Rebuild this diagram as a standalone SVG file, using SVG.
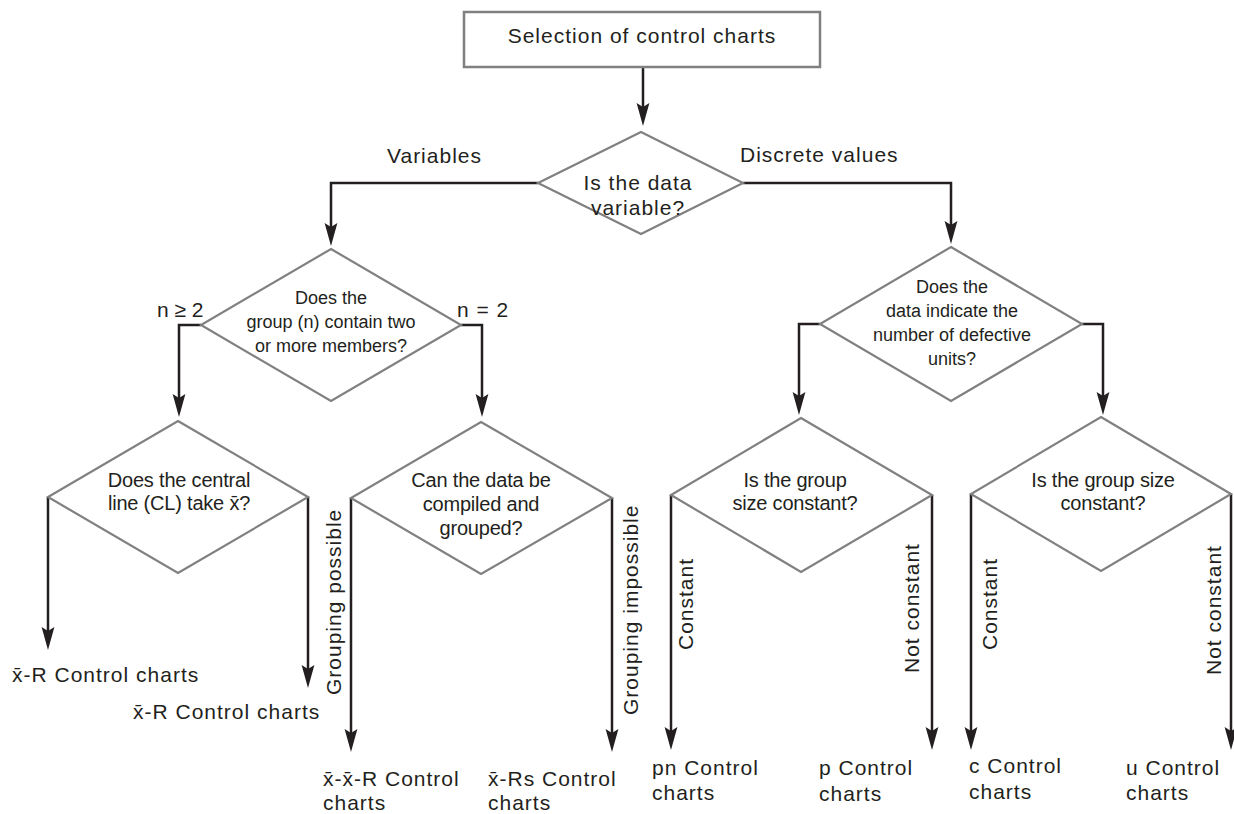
<svg xmlns="http://www.w3.org/2000/svg" width="1234" height="814" viewBox="0 0 1234 814">
<style>
.box{fill:#fff;stroke:#808080;stroke-width:2.5}
.dia{fill:#fff;stroke:#808080;stroke-width:2.2}
.con{fill:none;stroke:#231f20;stroke-width:2.5;marker-end:url(#ah)}
.lbl{font-family:"Liberation Sans",Arial,sans-serif;font-size:21px;letter-spacing:1px;fill:#231f20}
.dt{font-family:"Liberation Sans",Arial,sans-serif;font-size:18px;fill:#231f20;text-anchor:middle}
.dt2{font-family:"Liberation Sans",Arial,sans-serif;font-size:20px;letter-spacing:-0.2px;fill:#231f20;text-anchor:middle}
</style>
<defs>
<marker id="ah" markerUnits="userSpaceOnUse" markerWidth="24" markerHeight="14" viewBox="0 0 24 14" refX="15" refY="7" orient="auto">
<path d="M0,0.6 L23,7 L0,13.4 L4,7 Z" fill="#231f20"/>
</marker>
</defs>
<rect width="1234" height="814" fill="#fff"/>
<g id="connectors">
<path class="con" d="M643,68 V118"/>
<path class="con" d="M538,183 H331 V238"/>
<path class="con" d="M743,183 H951 V236"/>
<path class="con" d="M201,325 H179 V409"/>
<path class="con" d="M461,325 H482 V409"/>
<path class="con" d="M48,497 V642"/>
<path class="con" d="M308,497 V680"/>
<path class="con" d="M351,498 V744"/>
<path class="con" d="M612,498 V744"/>
<path class="con" d="M820,324 H799 V407"/>
<path class="con" d="M1082,324 H1103 V407"/>
<path class="con" d="M671,495 V742"/>
<path class="con" d="M932,495 V742"/>
<path class="con" d="M971,494 V742"/>
<path class="con" d="M1231,494 V742"/>
</g>
<g id="edge-labels">
<text class="lbl" x="387" y="163">Variables</text>
<text class="lbl" x="740" y="162">Discrete values</text>
<text class="lbl" x="157" y="317" style="letter-spacing:0">n ≥ 2</text>
<text class="lbl" x="457" y="317">n = 2</text>
<text class="lbl" transform="translate(341,695) rotate(-90)">Grouping possible</text>
<text class="lbl" transform="translate(638,715) rotate(-90)">Grouping impossible</text>
<text class="lbl" transform="translate(693,650) rotate(-90)">Constant</text>
<text class="lbl" transform="translate(919,673) rotate(-90)">Not constant</text>
<text class="lbl" transform="translate(997,650) rotate(-90)">Constant</text>
<text class="lbl" transform="translate(1221,675) rotate(-90)">Not constant</text>
</g>
<g id="start">
<rect class="box" x="464" y="12" width="356" height="55"/>
<text class="lbl" x="642" y="43" text-anchor="middle">Selection of control charts</text>
</g>
<g id="q-variable">
<polygon class="dia" points="641,132 743,183 641,234 538,183"/>
<text class="lbl" x="638" y="190" text-anchor="middle">Is the data</text>
<text class="lbl" x="638" y="215" text-anchor="middle">variable?</text>
</g>
<g id="q-group-size">
<polygon class="dia" points="331,249 461,325 331,401 201,325"/>
<text class="dt" x="331" y="304">Does the</text>
<text class="dt" x="331" y="328">group (n) contain two</text>
<text class="dt" x="331" y="352">or more members?</text>
</g>
<g id="q-central-line">
<polygon class="dia" points="178,421 308,497 178,573 48,497"/>
<text class="dt2" x="179" y="487">Does the central</text>
<text class="dt2" x="179" y="510">line (CL) take x̄?</text>
</g>
<g id="q-grouped">
<polygon class="dia" points="481,422 612,498 481,574 351,498"/>
<text class="dt2" x="481" y="487">Can the data be</text>
<text class="dt2" x="481" y="511">compiled and</text>
<text class="dt2" x="481" y="535">grouped?</text>
</g>
<g id="q-defective">
<polygon class="dia" points="951,247 1082,324 951,401 820,324"/>
<text class="dt" x="952" y="293">Does the</text>
<text class="dt" x="952" y="317">data indicate the</text>
<text class="dt" x="952" y="341">number of defective</text>
<text class="dt" x="952" y="365">units?</text>
</g>
<g id="q-size-p">
<polygon class="dia" points="801,418 932,495 801,572 671,495"/>
<text class="dt2" x="795" y="487">Is the group</text>
<text class="dt2" x="795" y="510">size constant?</text>
</g>
<g id="q-size-c">
<polygon class="dia" points="1101,417 1231,494 1101,571 971,494"/>
<text class="dt2" x="1103" y="487">Is the group size</text>
<text class="dt2" x="1103" y="510">constant?</text>
</g>
<g id="out-xr1"><text class="lbl" x="12" y="682">x̄-R Control charts</text></g>
<g id="out-xr2"><text class="lbl" x="133" y="719">x̄-R Control charts</text></g>
<g id="out-xxr"><text class="lbl" x="323" y="786">x̄-x̄-R Control</text><text class="lbl" x="323" y="810">charts</text></g>
<g id="out-xrs"><text class="lbl" x="488" y="786">x̄-Rs Control</text><text class="lbl" x="488" y="810">charts</text></g>
<g id="out-pn"><text class="lbl" x="652" y="775">pn Control</text><text class="lbl" x="652" y="800">charts</text></g>
<g id="out-p"><text class="lbl" x="819" y="775">p Control</text><text class="lbl" x="819" y="801">charts</text></g>
<g id="out-c"><text class="lbl" x="969" y="773">c Control</text><text class="lbl" x="969" y="799">charts</text></g>
<g id="out-u"><text class="lbl" x="1126" y="775">u Control</text><text class="lbl" x="1126" y="800">charts</text></g>
</svg>
